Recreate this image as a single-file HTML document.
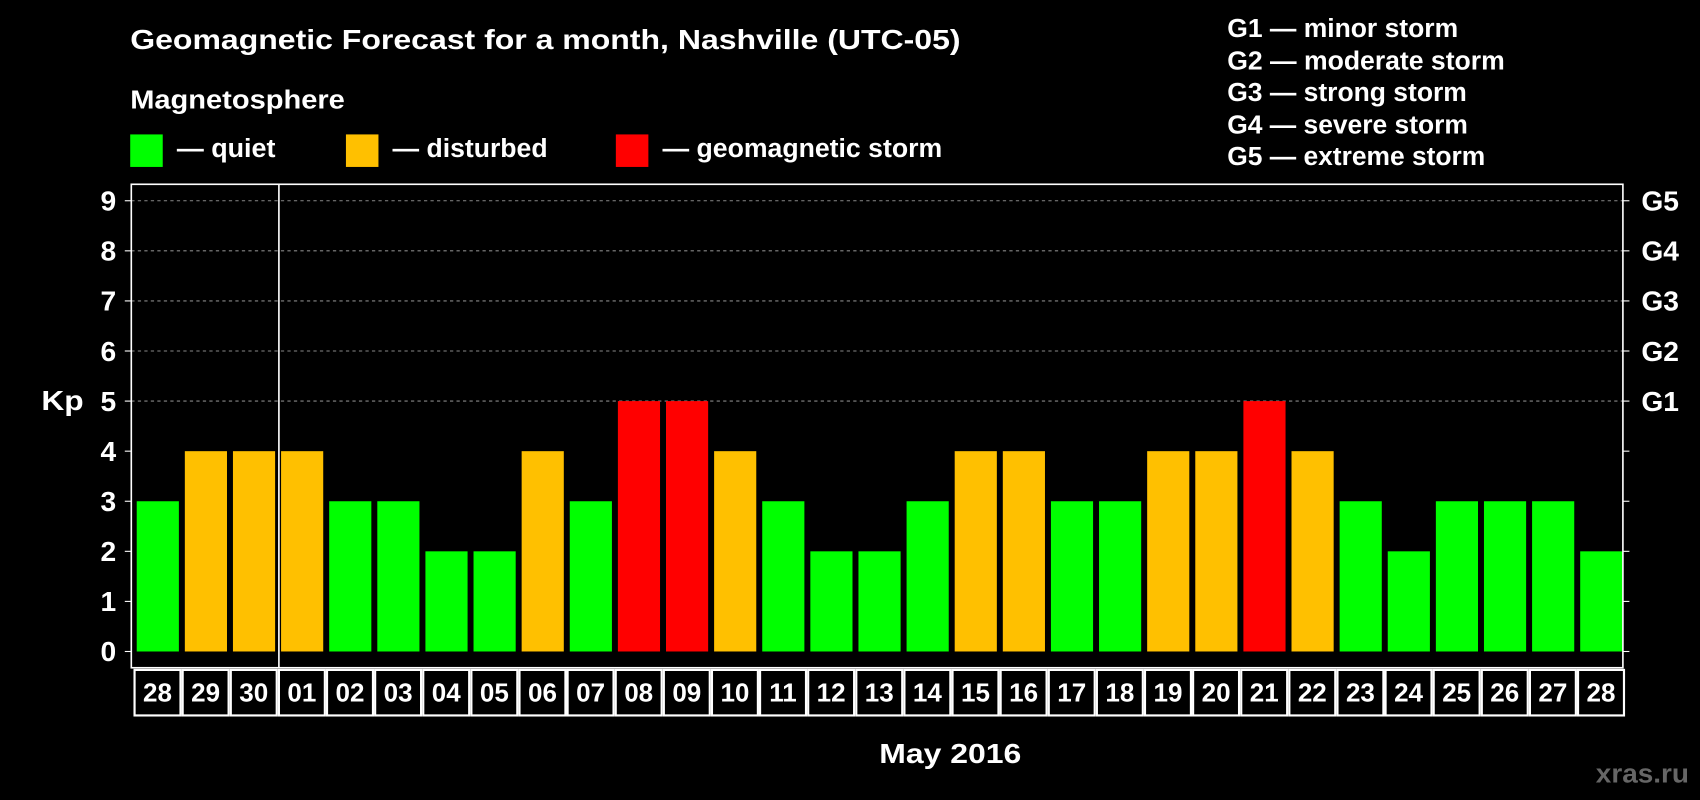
<!DOCTYPE html>
<html><head><meta charset="utf-8"><style>
html,body{margin:0;padding:0;background:#000;}
svg{display:block;font-family:"Liberation Sans",Arial,sans-serif;font-weight:bold;}
</style></head><body>
<svg id="chart" width="1700" height="800" viewBox="0 0 1568 738" xmlns="http://www.w3.org/2000/svg">
<rect width="1568" height="738" fill="#000"/>
<text x="120" y="45" fill="#fff" font-size="26" textLength="766" lengthAdjust="spacingAndGlyphs">Geomagnetic Forecast for a month, Nashville (UTC-05)</text>
<text x="120" y="100" fill="#fff" font-size="24" textLength="198" lengthAdjust="spacingAndGlyphs">Magnetosphere</text>
<g><rect x="120" y="124" width="30" height="30" fill="#00ff00"/><text x="163" y="145" fill="#fff" font-size="24" textLength="91" lengthAdjust="spacingAndGlyphs">— quiet</text></g>
<g><rect x="319" y="124" width="30" height="30" fill="#ffc000"/><text x="362" y="145" fill="#fff" font-size="24" textLength="143" lengthAdjust="spacingAndGlyphs">— disturbed</text></g>
<g><rect x="568" y="124" width="30" height="30" fill="#ff0000"/><text x="611" y="145" fill="#fff" font-size="24" textLength="258" lengthAdjust="spacingAndGlyphs">— geomagnetic storm</text></g>
<g fill="#fff" font-size="24">
<text x="1132" y="34" textLength="213" lengthAdjust="spacingAndGlyphs">G1 — minor storm</text>
<text x="1132" y="64" textLength="256" lengthAdjust="spacingAndGlyphs">G2 — moderate storm</text>
<text x="1132" y="93" textLength="221" lengthAdjust="spacingAndGlyphs">G3 — strong storm</text>
<text x="1132" y="123" textLength="222" lengthAdjust="spacingAndGlyphs">G4 — severe storm</text>
<text x="1132" y="152" textLength="238" lengthAdjust="spacingAndGlyphs">G5 — extreme storm</text>
</g>
<text x="38" y="378" fill="#fff" font-size="26" textLength="39" lengthAdjust="spacingAndGlyphs">Kp</text>
<text x="811" y="704" fill="#fff" font-size="26" textLength="131" lengthAdjust="spacingAndGlyphs">May 2016</text>
<text x="1472" y="722" fill="#666" font-size="24" textLength="86" lengthAdjust="spacingAndGlyphs">xras.ru</text>
<g id="plot"></g>
</svg>
<script>
const days = ["28","29","30","01","02","03","04","05","06","07","08","09","10","11","12","13","14","15","16","17","18","19","20","21","22","23","24","25","26","27","28"];
const kpValues = [3,4,4,4,3,3,2,2,4,3,5,5,4,3,2,2,3,4,4,3,3,4,4,5,4,3,2,3,3,3,2];
const yTicks = [0,1,2,3,4,5,6,7,8,9];
const gLabels = ["","","","","","G1","G2","G3","G4","G5"];
const NS="http://www.w3.org/2000/svg";
const g=document.getElementById('plot');
const L=121,R=1497,T=170,B=616;
const y=v=>601-v*46.2;
const pitch=(R-L)/days.length;
const x=i=>L+i*pitch;
function mk(t,a){const e=document.createElementNS(NS,t);for(const k in a)e.setAttribute(k,a[k]);g.appendChild(e);return e;}
yTicks.forEach(v=>{
  if(v>=5){const gl=mk('line',{x1:L,x2:R,y1:y(v),y2:y(v),stroke:'#888','stroke-dasharray':'3,3'});
  
  }
  mk('line',{x1:L-6,x2:L,y1:y(v),y2:y(v),stroke:'#fff'});
  mk('line',{x1:R,x2:R+6,y1:y(v),y2:y(v),stroke:'#fff'});
  const t=mk('text',{x:L-14,y:y(v)+9,fill:'#fff','font-size':26,'text-anchor':'end'});t.textContent=v;
  
  
  if(gLabels[v]){const r=mk('text',{x:R+17,y:y(v)+9,fill:'#fff','font-size':26});r.textContent=gLabels[v];
  
  }
});
kpValues.forEach((v,i)=>{
  const c=v>=5?'#ff0000':(v>=4?'#ffc000':'#00ff00');
  const b=mk('rect',{x:x(i)+5,y:y(v),width:pitch-5.5,height:y(0)-y(v),fill:c});
  
  
  const cell=mk('rect',{x:x(i)+3,y:618,width:pitch-2,height:42,fill:'none',stroke:'#fff','stroke-width':2});
  
  
  const t=mk('text',{x:x(i)+2+pitch/2,y:647,fill:'#fff','font-size':24,'text-anchor':'middle'});t.textContent=days[i];
  
  
});
const frame=mk('rect',{x:L,y:T,width:R-L,height:B-T,fill:'none',stroke:'#fff','stroke-width':1.5});


const sep=mk('line',{x1:x(3)+3,x2:x(3)+3,y1:T,y2:B,stroke:'#fff','stroke-width':1.5});


</script>
</body></html>
